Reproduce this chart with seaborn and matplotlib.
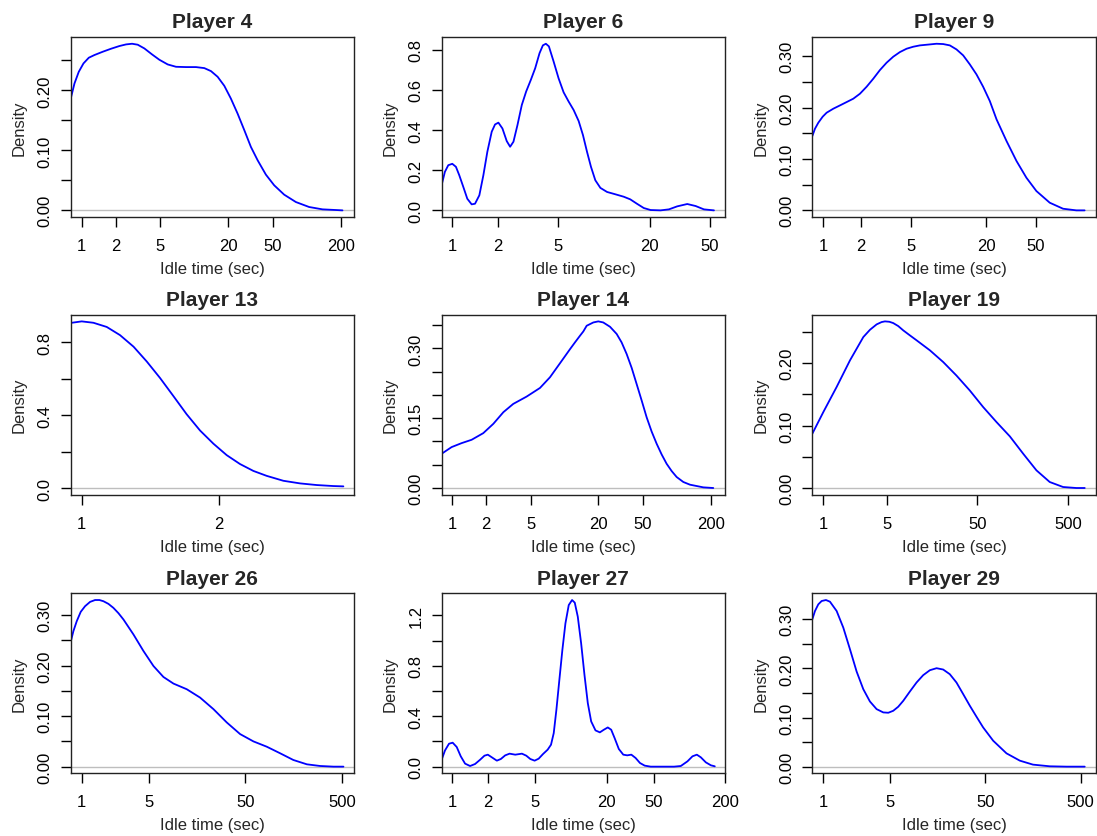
import matplotlib
matplotlib.use("Agg")
import matplotlib.pyplot as plt
import pandas as pd
import seaborn as sns
from matplotlib.ticker import FixedLocator, FixedFormatter, NullLocator

# ---- data: kernel density of idle time (sec) per player ----
players = ["Player 4", "Player 6", "Player 9",
           "Player 13", "Player 14", "Player 19",
           "Player 26", "Player 27", "Player 29"]

p4_sec = [0.804, 0.861, 0.940, 1.035, 1.154, 1.296, 1.536, 1.82, 2.159, 2.474, 2.797,
          3.14, 3.597, 4.21, 4.89, 5.80, 6.87, 8.43, 10.34, 12.26, 14.05, 16.1, 18.45,
          21.1, 24.2, 27.8, 31.8, 36.5, 43.2, 51.2, 62.8, 79.8, 104.7, 137.5, 180.6, 207]
p4_den = [0.189, 0.2116, 0.231, 0.245, 0.2545, 0.259, 0.2645, 0.2695, 0.274, 0.2767,
          0.2778, 0.2762, 0.270, 0.260, 0.2511, 0.2433, 0.2394, 0.2389, 0.2389, 0.2372,
          0.2322, 0.2227, 0.2077, 0.1865, 0.1615, 0.1336, 0.1058, 0.0835, 0.0596,
          0.0418, 0.0262, 0.0139, 0.0056, 0.0017, 0.0006, 0.0]

p6_sec = [0.850, 0.894, 0.941, 1.0, 1.057, 1.112, 1.182, 1.256, 1.342, 1.412, 1.508,
          1.603, 1.703, 1.82, 1.914, 2.014, 2.141, 2.286, 2.406, 2.531, 2.690, 2.873,
          3.069, 3.295, 3.52, 3.76, 3.956, 4.14, 4.334, 4.654, 5.02, 5.42, 5.85, 6.31,
          6.81, 7.27, 7.73, 8.21, 8.77, 9.47, 10.48, 11.9, 13.5, 14.9, 16.5, 18.3,
          20.3, 23.6, 26.8, 30.4, 35.4, 40.2, 45.6, 53.1]
p6_den = [0.125, 0.192, 0.225, 0.232, 0.217, 0.175, 0.117, 0.058, 0.030, 0.033,
          0.075, 0.175, 0.292, 0.392, 0.428, 0.437, 0.408, 0.345, 0.317, 0.342,
          0.425, 0.525, 0.592, 0.650, 0.708, 0.783, 0.822, 0.830, 0.817, 0.742,
          0.658, 0.588, 0.542, 0.500, 0.445, 0.375, 0.292, 0.217, 0.150, 0.112,
          0.0917, 0.080, 0.068, 0.055, 0.033, 0.0117, 0.0017, 0.0, 0.005, 0.020,
          0.0317, 0.0217, 0.005, 0.0]

p9_sec = [0.817, 0.858, 0.912, 0.988, 1.063, 1.202, 1.359, 1.536, 1.736, 1.963, 2.22,
          2.51, 2.836, 3.206, 3.625, 4.098, 4.633, 5.236, 5.92, 7.115, 8.04, 9.094,
          10.28, 11.62, 13.14, 14.85, 16.79, 18.98, 21.46, 24.3, 29.2, 35.1, 42.1,
          50.6, 64.7, 82.7, 105.7, 123]
p9_den = [0.1445, 0.1588, 0.1704, 0.1821, 0.1899, 0.1977, 0.2041, 0.2106, 0.2171,
          0.2268, 0.2404, 0.256, 0.2728, 0.2871, 0.2988, 0.3078, 0.3143, 0.3182,
          0.3208, 0.3227, 0.3240, 0.3234, 0.3208, 0.313, 0.3014, 0.2839, 0.2644,
          0.2404, 0.2126, 0.1769, 0.1348, 0.0959, 0.0635, 0.0376, 0.0149, 0.0032,
          0.0, 0.0]

p13_sec = [0.951, 1.0, 1.061, 1.135, 1.214, 1.30, 1.39, 1.486, 1.59, 1.70, 1.82,
           1.947, 2.083, 2.228, 2.384, 2.55, 2.775, 3.02, 3.285, 3.573, 3.76]
p13_den = [0.908, 0.9156, 0.908, 0.885, 0.840, 0.7765, 0.695, 0.605, 0.5056, 0.406,
           0.316, 0.2438, 0.1806, 0.1318, 0.0939, 0.0668, 0.0397, 0.0253, 0.0163,
           0.0108, 0.009]

p14_sec = [0.804, 0.986, 1.21, 1.486, 1.888, 2.32, 2.85, 3.49, 4.59, 6.04, 7.41,
           9.10, 11.2, 12.38, 13.7, 14.69, 15.73, 18.03, 19.96, 22.1, 25.4, 29.1,
           32.2, 35.7, 39.6, 43.8, 48.6, 53.8, 59.6, 66.1, 73.2, 81.1, 89.9, 99.6,
           114.2, 131, 172, 211]
p14_den = [0.0736, 0.0879, 0.0964, 0.1036, 0.1179, 0.1379, 0.1629, 0.1807, 0.1964,
           0.215, 0.2379, 0.268, 0.2986, 0.3129, 0.327, 0.3364, 0.3486, 0.3557, 0.358,
           0.3557, 0.3464, 0.331, 0.3129, 0.288, 0.258, 0.2236, 0.1879, 0.152, 0.1214,
           0.095, 0.0721, 0.052, 0.0364, 0.0236, 0.0129, 0.0071, 0.0014, 0.0]

p19_sec = [0.756, 1.0, 1.40, 1.967, 2.76, 3.27, 3.87, 4.39, 4.78, 5.34, 5.90, 6.70,
           7.61, 9.01, 10.7, 15.0, 21.0, 29.4, 41.3, 57.9, 81.2, 114, 160, 224, 314,
           441, 618, 764]
p19_den = [0.0869, 0.1216, 0.1616, 0.2043, 0.2416, 0.2533, 0.2619, 0.2656, 0.2667,
           0.2661, 0.264, 0.2592, 0.2523, 0.2443, 0.2363, 0.2203, 0.2016, 0.180,
           0.156, 0.1296, 0.1056, 0.0827, 0.0549, 0.0283, 0.0096, 0.0016, 0.0, 0.0]

p26_sec = [0.769, 0.819, 0.887, 0.976, 1.083, 1.22, 1.375, 1.525, 1.68, 1.891, 2.13,
           2.402, 2.71, 3.44, 4.37, 5.55, 7.04, 8.95, 12.3, 16.9, 23.3, 32.0, 44.0,
           60.5, 83.2, 115, 157, 217, 298, 410, 520]
p26_den = [0.2474, 0.2684, 0.288, 0.3066, 0.3178, 0.3263, 0.330, 0.330, 0.3276,
           0.3224, 0.3145, 0.304, 0.2914, 0.2618, 0.229, 0.1993, 0.1776, 0.1645,
           0.1533, 0.1368, 0.1138, 0.0875, 0.0645, 0.050, 0.0395, 0.0263, 0.0132,
           0.0046, 0.0013, 0.0, 0.0]

p27_sec = [0.812, 0.867, 0.937, 1.006, 1.088, 1.177, 1.28, 1.411, 1.555, 1.715, 1.866,
           1.992, 2.153, 2.374, 2.566, 2.793, 3.04, 3.394, 3.865, 4.206, 4.547, 4.946,
           5.35, 5.82, 6.37, 6.80, 7.17, 7.55, 8.00, 8.48, 9.0, 9.60, 10.24, 10.79,
           11.44, 12.21, 13.03, 13.90, 14.84, 16.14, 17.57, 19.0, 20.5, 21.9, 23.4,
           25.4, 27.7, 29.9, 32.4, 35.2, 38.3, 42.0, 47.2, 74.3, 84.7, 96.4, 106.3,
           115.7, 125, 137.8, 152, 164]
p27_den = [0.055, 0.129, 0.182, 0.190, 0.156, 0.082, 0.024, 0.005, 0.021, 0.055,
           0.087, 0.095, 0.074, 0.0475, 0.0607, 0.0897, 0.103, 0.095, 0.103, 0.087,
           0.0607, 0.0475, 0.0633, 0.100, 0.1346, 0.174, 0.266, 0.451, 0.689, 0.926,
           1.137, 1.282, 1.322, 1.301, 1.190, 0.979, 0.728, 0.504, 0.359, 0.2876,
           0.272, 0.293, 0.311, 0.293, 0.227, 0.140, 0.095, 0.0897, 0.095, 0.0686,
           0.029, 0.008, 0.0, 0.0, 0.005, 0.042, 0.082, 0.095, 0.074, 0.034, 0.0106,
           0.0026]

p29_sec = [0.767, 0.818, 0.886, 0.961, 1.066, 1.174, 1.379, 1.62, 1.903, 2.235, 2.624,
           3.08, 3.62, 4.25, 4.80, 5.41, 6.10, 6.89, 8.09, 9.50, 11.15, 13.1, 15.4,
           18.07, 21.2, 24.9, 29.3, 34.4, 40.4, 47.4, 60.4, 83.3, 115, 158, 237, 354,
           551]
p29_den = [0.300, 0.3169, 0.3304, 0.3372, 0.3392, 0.3358, 0.3169, 0.283, 0.239,
           0.1936, 0.1578, 0.1327, 0.1171, 0.1104, 0.1097, 0.1137, 0.1219, 0.134,
           0.153, 0.1713, 0.1862, 0.1963, 0.2004, 0.1977, 0.1882, 0.1713, 0.1476,
           0.1239, 0.1016, 0.0799, 0.0528, 0.0271, 0.0122, 0.0041, 0.0007, 0.0, 0.0]

idle_sec = [p4_sec, p6_sec, p9_sec, p13_sec, p14_sec, p19_sec, p26_sec, p27_sec, p29_sec]
density = [p4_den, p6_den, p9_den, p13_den, p14_den, p19_den, p26_den, p27_den, p29_den]

# x-axis ranges and tick labels (log scale)
x_ranges = [(0.798, 262.6), (0.851, 62.8), (0.817, 150.8),
            (0.946, 3.97), (0.804, 268.4), (0.756, 1009),
            (0.769, 671), (0.812, 200), (0.767, 718)]
x_ticks = [[1, 2, 5, 20, 50, 200], [1, 2, 5, 20, 50], [1, 2, 5, 20, 50],
           [1, 2], [1, 2, 5, 20, 50, 200], [1, 5, 50, 500],
           [1, 5, 50, 500], [1, 2, 5, 20, 50, 200], [1, 5, 50, 500]]
# y ticks: (step, label every n-th tick, decimals)
y_ticks = [(0.05, 2, 2), (0.2, 1, 1), (0.05, 2, 2),
           (0.2, 2, 1), (0.05, 3, 2), (0.05, 2, 2),
           (0.05, 2, 2), (0.2, 2, 1), (0.05, 2, 2)]

# ---- style ----
sns.set_style("ticks")
plt.rcParams["font.family"] = ["Liberation Sans", "DejaVu Sans"]
plt.rcParams["axes.linewidth"] = 1.0

fig = plt.figure(figsize=(10.97, 8.37), dpi=100)

col_left = [0.0645, 0.4026, 0.7405]
row_bottom = [0.7395, 0.4078, 0.0749]
ax_w, ax_h = 0.2583, 0.2150

for i, name in enumerate(players):
    r, c = divmod(i, 3)
    ax = fig.add_axes([col_left[c], row_bottom[r], ax_w, ax_h])
    df = pd.DataFrame({"sec": idle_sec[i], "density": density[i]})

    ax.axhline(0, color="#BEBEBE", lw=1.0, zorder=1)
    sns.lineplot(data=df, x="sec", y="density", ax=ax, color="#0000FF",
                 linewidth=1.3, estimator=None, sort=False, zorder=2)

    ax.set_xscale("log")
    ax.set_xlim(*x_ranges[i])
    ymax = max(density[i])
    ax.set_ylim(-0.04 * ymax, 1.04 * ymax)

    ax.xaxis.set_major_locator(FixedLocator(x_ticks[i]))
    ax.xaxis.set_major_formatter(FixedFormatter([str(t) for t in x_ticks[i]]))
    ax.xaxis.set_minor_locator(NullLocator())

    step, every, dec = y_ticks[i]
    n = int(ymax / step + 1e-9)
    yt = [k * step for k in range(n + 1)]
    ylab = [f"{v:.{dec}f}" if k % every == 0 else "" for k, v in enumerate(yt)]
    ax.yaxis.set_major_locator(FixedLocator(yt))
    ax.yaxis.set_major_formatter(FixedFormatter(ylab))
    ax.yaxis.set_minor_locator(NullLocator())

    ax.tick_params(axis="both", direction="out", length=7.5, width=1.0,
                   labelsize=12, colors="black")
    ax.tick_params(axis="x", pad=7.5)
    ax.tick_params(axis="y", pad=5.5)
    for lbl in ax.get_yticklabels():
        lbl.set_rotation(90)
        lbl.set_va("center")

    for sp in ax.spines.values():
        sp.set_visible(True)
        sp.set_color("#222222")
        sp.set_linewidth(1.0)

    ax.set_xlabel("Idle time (sec)", fontsize=12, labelpad=6)
    ax.set_ylabel("Density", fontsize=12, labelpad=8)
    ax.set_title(name, fontsize=15, fontweight="bold", pad=7)

fig.savefig("out.png", dpi=100)
